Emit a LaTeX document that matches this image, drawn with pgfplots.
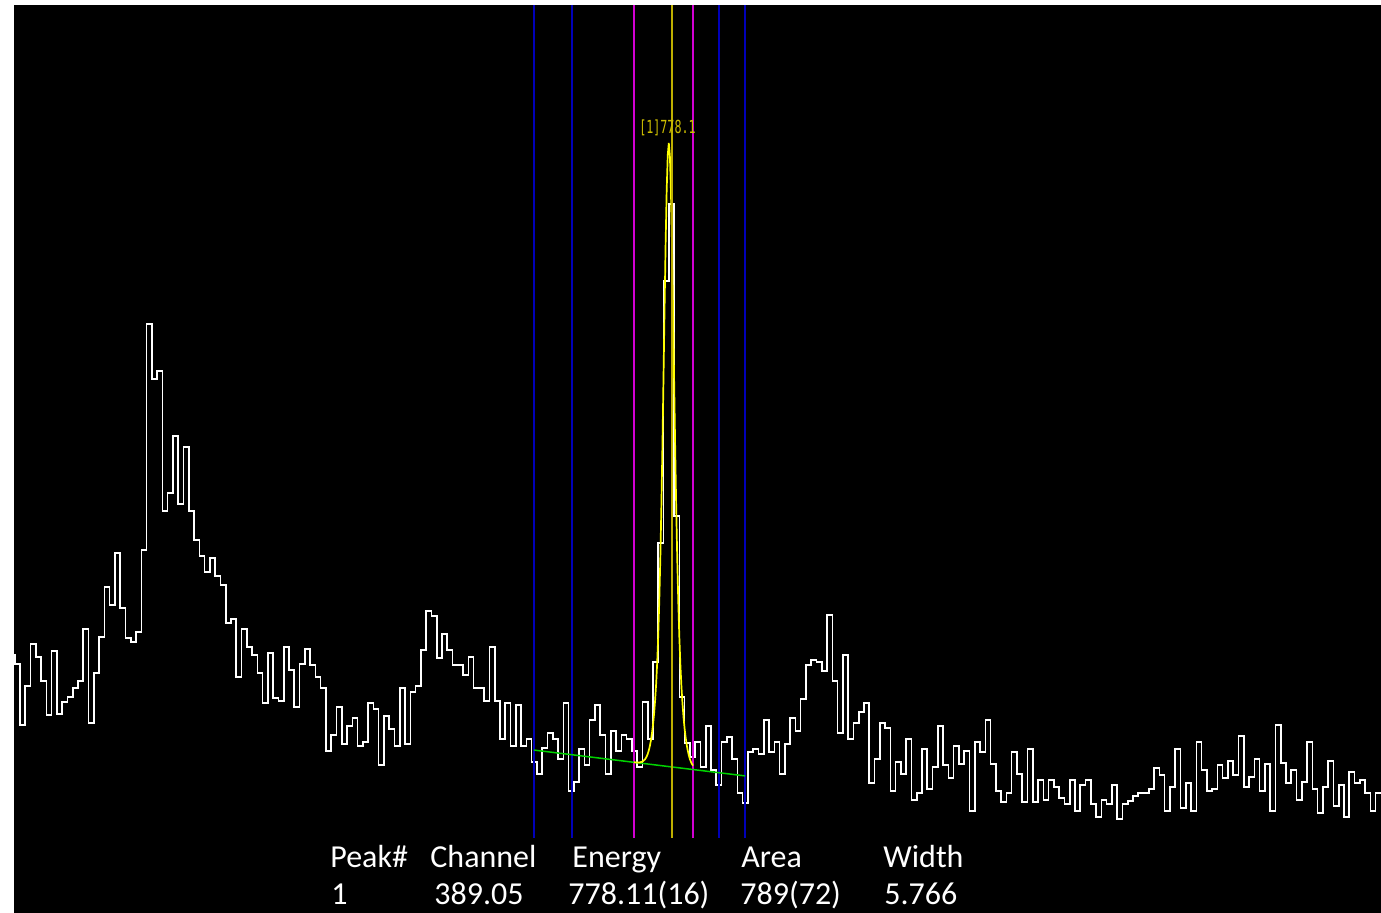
\documentclass[border=0pt]{standalone}
\usepackage{pgfplots}
\pgfplotsset{compat=1.18}
\usepackage{pgfplotstable}
\usepackage{fontspec}
\setmainfont{Carlito}
\newfontfamily\monofont{DejaVu Sans Mono}

\definecolor{roiblue}{RGB}{0,0,185}
\definecolor{fitmagenta}{RGB}{210,0,210}
\definecolor{centroid}{RGB}{190,175,0}
\definecolor{labelolive}{RGB}{205,190,0}
\definecolor{fityellow}{RGB}{255,255,0}
\definecolor{bkggreen}{RGB}{0,210,0}

% spectrum: bin index (left edge) and counts
\pgfplotstableread{
bin counts
-1 183
0 174
1 113
2 152
3 194
4 181
5 157
6 123
7 187
8 124
9 136
10 141
11 150
12 157
13 209
14 115
15 165
16 201
17 251
18 233
19 285
20 230
21 200
22 196
23 206
24 288
25 514
26 459
27 467
28 327
29 345
30 402
31 334
32 391
33 327
34 298
35 282
36 266
37 280
38 262
39 253
40 215
41 219
42 161
43 209
44 191
45 183
46 165
47 135
48 185
49 140
50 137
51 191
52 168
53 131
54 174
55 189
56 173
57 161
58 150
59 87
60 103
61 131
62 94
63 112
64 120
65 92
66 96
67 135
68 129
69 73
70 122
71 109
72 92
73 150
74 94
75 146
76 152
77 188
78 227
79 222
80 180
81 204
82 188
83 173
84 173
85 163
86 181
87 150
88 150
89 137
90 191
91 137
92 99
93 135
94 92
95 133
96 92
97 99
98 76
99 64
100 90
101 105
102 99
103 79
104 135
105 47
106 56
107 89
108 73
109 118
110 133
111 103
112 64
113 107
114 87
115 103
116 99
117 87
118 71
119 136
120 99
121 176
122 295
123 557
124 634
125 322
126 141
127 95
128 81
129 96
130 71
131 112
132 68
133 53
134 96
135 101
136 79
137 45
138 35
139 86
140 89
141 84
142 118
143 86
144 96
145 64
146 94
147 120
148 107
149 139
150 173
151 178
152 176
153 167
154 223
155 157
156 105
157 183
158 99
159 115
160 126
161 135
162 55
163 79
164 115
165 110
166 47
167 76
168 64
169 99
170 38
171 45
172 89
173 49
174 71
175 112
176 73
177 60
178 92
179 74
180 87
181 27
182 96
183 86
184 118
185 74
186 47
187 36
188 45
189 86
190 64
191 36
192 89
193 36
194 58
195 38
196 58
197 51
198 40
199 34
200 58
201 27
202 53
203 58
204 34
205 21
206 38
207 34
208 53
209 19
210 34
211 37
212 42
213 45
214 45
215 49
216 70
217 63
218 27
219 51
220 89
221 30
222 55
223 27
224 96
225 68
226 47
227 49
228 73
229 60
230 77
231 63
232 102
233 51
234 61
235 79
236 47
237 74
238 27
239 113
240 75
241 55
242 68
243 38
244 56
245 96
246 49
247 25
248 51
249 77
250 32
251 53
252 21
253 66
254 55
255 58
256 45
257 27
258 45
259 45
}\spectrum

% fitted peak (on linear background) across the fit region
\pgfplotstableread{
bin counts
117.4 75.7
118.0 75.5
118.5 75.6
119.0 76.4
119.5 78.7
119.8 81.4
120.0 84.0
120.2 87.4
120.4 91.8
120.6 97.3
120.8 104.4
121.0 113.0
121.2 123.8
121.4 137.3
121.6 154.1
121.8 175.5
122.0 203.0
122.2 237.7
122.4 281.2
122.6 333.7
122.8 394.8
123.0 462.2
123.2 530.9
123.4 595.4
123.6 648.2
123.8 682.9
124.0 695.0
124.2 682.7
124.4 647.7
124.6 594.6
124.8 529.9
125.0 460.9
125.2 393.2
125.4 331.9
125.6 279.1
125.8 235.4
126.0 200.4
126.2 172.7
126.4 151.0
126.6 133.9
126.8 120.2
127.0 109.1
127.2 100.2
127.4 92.9
127.6 87.2
127.8 82.5
128.0 78.8
128.3 74.8
128.59 72.3
}\fitcurve

\begin{document}
\begin{tikzpicture}
  % page and display background (1 unit = 0.5pt)
  \begin{scope}[x=0.5pt, y=0.5pt]
    \fill[white] (0,0) rectangle (1381,913);
    \fill[black] (14,0) rectangle (1381,908);
  \end{scope}

  \begin{axis}[
      at={(7pt,37.5pt)}, anchor=south west,
      scale only axis,
      width=683.5pt, height=416.5pt,
      xmin=-0.1327, xmax=259.015,
      ymin=0, ymax=833,
      enlargelimits=false,
      hide axis,
      clip=true,
    ]
    % spectrum
    \addplot[const plot, white, line width=0.8pt] table[x=bin, y=counts] {\spectrum};

    % region-of-interest markers
    \addplot[roiblue, line width=0.8pt] coordinates {(98.45,0) (98.45,833)};
    \addplot[roiblue, line width=0.8pt] coordinates {(105.65,0) (105.65,833)};
    \addplot[roiblue, line width=0.8pt] coordinates {(133.52,0) (133.52,833)};
    \addplot[roiblue, line width=0.8pt] coordinates {(138.45,0) (138.45,833)};
    % fit region limits
    \addplot[fitmagenta, line width=0.8pt] coordinates {(117.40,0) (117.40,833)};
    \addplot[fitmagenta, line width=0.8pt] coordinates {(128.59,0) (128.59,833)};

    % linear background
    \addplot[bkggreen, line width=0.75pt] coordinates {(98.45,87.9) (138.45,62.1)};

    % fitted peak
    \addplot[fityellow, line width=0.85pt, sharp plot] table[x=bin, y=counts] {\fitcurve};

    % centroid marker
    \addplot[centroid, line width=0.95pt] coordinates {(124.61,0) (124.61,833)};

    \node[text=labelolive, font=\monofont\fontsize{9pt}{10pt}\selectfont, anchor=center, inner sep=0pt]
      at (axis cs:123.75,710) {\scalebox{0.65}[1]{[1]778.1}};
  \end{axis}

  % peak report
  \begin{scope}[x=0.5pt, y=0.5pt,
      every node/.style={anchor=base west, inner sep=0pt, text=white,
      font=\fontsize{16pt}{19pt}\selectfont}]
    \node at (330,45) {Peak\#};
    \node at (430,45) {Channel};
    \node at (572,45) {Energy};
    \node at (741,45) {Area};
    \node at (883,45) {Width};
    \node at (331,8) {1};
    \node at (434,8) {389.05};
    \node at (568,8) {778.11(16)};
    \node at (740,8) {789(72)};
    \node at (884,8) {5.766};
  \end{scope}
\end{tikzpicture}
\end{document}
